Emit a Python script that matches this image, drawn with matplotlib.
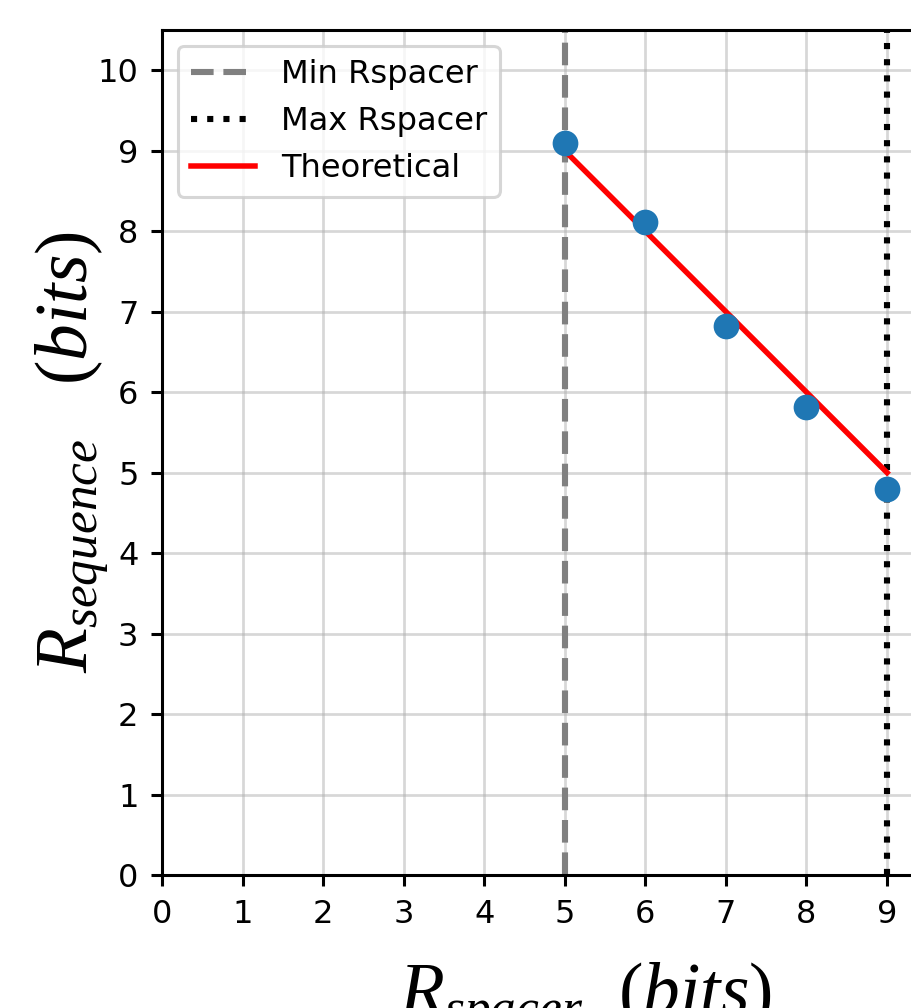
import matplotlib
matplotlib.use("Agg")
import matplotlib.pyplot as plt

# data
r_spacer = [5, 6, 7, 8, 9]
r_sequence = [9.1, 8.12, 6.82, 5.82, 4.8]
theory_x = [5, 9]
theory_y = [9, 5]
min_rspacer = 5
max_rspacer = 9
ticks = list(range(0, 11))

plt.rcParams['mathtext.fontset'] = 'custom'
plt.rcParams['mathtext.it'] = 'Liberation Serif:italic'
plt.rcParams['mathtext.rm'] = 'Liberation Serif'
plt.rcParams['font.family'] = 'DejaVu Sans'

DPI = 220
W, H = 911, 1008
fig = plt.figure(figsize=(W / DPI, H / DPI), dpi=DPI)
left, right_px, top, bottom = 162, 162 + 10.5 * 80.56, 30, 875
ax = fig.add_axes([left / W, (H - bottom) / H, (right_px - left) / W, (bottom - top) / H])

ax.grid(True, color='#b0b0b0', alpha=0.5, linewidth=0.9, zorder=0)
ax.set_axisbelow(True)
ax.axvline(min_rspacer, color='gray', linestyle='--', linewidth=2, label='Min Rspacer')
ax.axvline(max_rspacer, color='black', linestyle=':', linewidth=2, label='Max Rspacer')
ax.plot(theory_x, theory_y, color='red', linewidth=1.8, label='Theoretical')
ax.scatter(r_spacer, r_sequence, s=55, color='#1f77b4', zorder=3)

ax.set_xlim(0, 10.5)
ax.set_ylim(0, 10.5)
ax.set_xticks(ticks)
ax.set_yticks(ticks)
ax.tick_params(labelsize=10.5, length=3.5, width=1.0, pad=4.2)
for s in ax.spines.values():
    s.set_linewidth(1.0)

ax.set_xlabel(r'$R_{spacer}\ \ (bits)$', fontsize=24, labelpad=10)
ax.set_ylabel(r'$R_{sequence}\ \ \ (bits)$', fontsize=24, labelpad=-4)
ax.legend(loc='upper left', fontsize=10.5)

fig.savefig('out.png', dpi=DPI)
